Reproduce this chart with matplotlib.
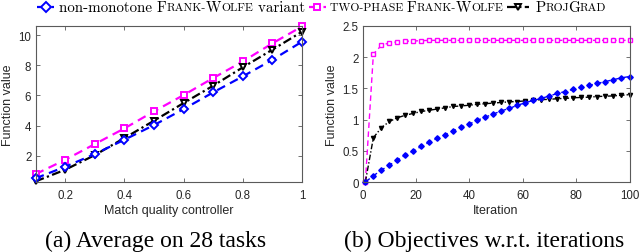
import matplotlib
matplotlib.use("Agg")
import matplotlib.pyplot as plt
from matplotlib.lines import Line2D
import numpy as np

# ---------------- data ----------------
ctrl = [0.1, 0.2, 0.3, 0.4, 0.5, 0.6, 0.7, 0.8, 0.9, 1.0]
a_nonmono = [0.50, 1.27, 2.11, 3.06, 4.03, 5.09, 6.20, 7.26, 8.36, 9.56]
a_twophase = [0.78, 1.73, 2.77, 3.81, 4.94, 6.02, 7.15, 8.25, 9.45, 10.57]
a_projgrad = [0.30, 1.07, 2.04, 3.17, 4.32, 5.49, 6.64, 7.86, 9.03, 10.22]

iters = list(range(1, 101, 3))
b_nonmono = [0.00, 0.10, 0.19, 0.27, 0.35, 0.43, 0.50, 0.57, 0.64, 0.70,
             0.76, 0.82, 0.88, 0.93, 0.99, 1.04, 1.09, 1.14, 1.18, 1.23,
             1.27, 1.31, 1.34, 1.38, 1.42, 1.45, 1.49, 1.52, 1.55, 1.58,
             1.61, 1.64, 1.67, 1.69]
b_twophase = [0.00, 2.05, 2.19, 2.23, 2.245, 2.255, 2.26, 2.265, 2.27, 2.27,
              2.27, 2.27, 2.27, 2.27, 2.27, 2.27, 2.27, 2.27, 2.27, 2.27,
              2.27, 2.27, 2.27, 2.27, 2.27, 2.27, 2.27, 2.27, 2.27, 2.27,
              2.27, 2.27, 2.27, 2.27]
b_projgrad = [0.00, 0.71, 0.87, 0.97, 1.03, 1.07, 1.10, 1.13, 1.15, 1.17,
              1.19, 1.21, 1.22, 1.23, 1.245, 1.255, 1.265, 1.275, 1.285, 1.29,
              1.30, 1.31, 1.32, 1.325, 1.335, 1.34, 1.35, 1.355, 1.36, 1.37,
              1.375, 1.38, 1.39, 1.40]

a_xticks = [0.2, 0.4, 0.6, 0.8, 1.0]
a_xticklabels = ["0.2", "0.4", "0.6", "0.8", "1"]
a_yticks = [2, 4, 6, 8, 10]
b_xticks = [0, 20, 40, 60, 80, 100]
b_yticks = [0, 0.5, 1, 1.5, 2, 2.5]
b_yticklabels = ["0", "0.5", "1", "1.5", "2", "2.5"]

BLUE = (0, 0, 1)
MAG = (1, 0, 1)
BLK = (0, 0, 0)
TXT = "#262626"
AXC = "#5a5a5a"
FS = 9
TFS = 8.3

W, H = 640, 253
fig = plt.figure(figsize=(6.4, 2.53), dpi=100)

def axes_px(l, r, t, b):
    return fig.add_axes([l / W, 1 - b / H, (r - l) / W, (b - t) / H])

axA = axes_px(35.5, 302, 27, 183)
axB = axes_px(362.7, 629.5, 27, 183)

labfont = dict(family="Liberation Sans", size=FS, color=TXT)

def style(ax):
    for s in ax.spines.values():
        s.set_color(AXC)
        s.set_linewidth(0.8)
    ax.tick_params(direction="in", length=3, width=0.6, color=AXC,
                   top=True, right=True, labelsize=TFS, labelcolor=TXT)
    ax.tick_params(axis="x", pad=5)
    ax.tick_params(axis="y", pad=3)
    for lab in ax.get_xticklabels() + ax.get_yticklabels():
        lab.set_family("Liberation Sans")

# ----- panel (a) -----
kw = dict(clip_on=False, lw=1.6, mew=1.4, ms=5)
axA.plot(ctrl, a_twophase, ls=(0, (4, 2.5)), color=MAG, marker="s", mfc="white", mec=MAG, **kw)
axA.plot(ctrl, a_projgrad, ls=(0, (4, 1.5, 1, 1.5)), color=BLK, marker="v", mfc="white", mec=BLK, **kw)
axA.plot(ctrl, a_nonmono, ls=(0, (4, 2.5)), color=BLUE, marker="D", mfc="white", mec=BLUE,
         clip_on=False, lw=1.6, mew=1.4, ms=4.5)
axA.set_xlim(0.1, 1.0)
axA.set_ylim(0.26, 10.6)
axA.set_xticks(a_xticks)
axA.set_xticklabels(a_xticklabels)
axA.set_yticks(a_yticks)
axA.set_xlabel("Match quality controller", fontdict=labfont, labelpad=2)
axA.set_ylabel("Function value", fontdict=labfont, labelpad=3)
style(axA)

# ----- panel (b) -----
kwb = dict(clip_on=False, lw=1.0, mew=1.0, ms=3)
axB.plot(iters, b_twophase, ls=(0, (4, 2.5)), color=MAG, marker="s", mfc="white", mec=MAG, **kwb)
axB.plot(iters, b_projgrad, ls=(0, (4, 1.5, 1, 1.5)), color=BLK, marker="v", mfc=BLK, mec=BLK, **kwb)
axB.plot(iters, b_nonmono, ls=(0, (4, 2.5)), color=BLUE, marker="D", mfc=BLUE, mec=BLUE,
         clip_on=False, lw=1.0, mew=1.0, ms=2.8)
axB.set_xlim(0, 100)
axB.set_ylim(0, 2.5)
axB.set_xticks(b_xticks)
axB.set_yticks(b_yticks)
axB.set_yticklabels(b_yticklabels)
axB.set_xlabel("Iteration", fontdict=labfont, labelpad=2)
axB.set_ylabel("Function value", fontdict=labfont, labelpad=3)
style(axB)

# ----- captions -----
capfont = dict(family="Liberation Serif", size=17, color="black", ha="center", va="center")
fig.text(156 / W, 1 - 241 / H, "(a) Average on 28 tasks", **capfont)
fig.text(484 / W, 1 - 241 / H, "(b) Objectives w.r.t. iterations", **capfont)

# ----- custom legend with small caps -----
S = 10.8
SC = 0.78 * S
LEGY = 1 - 8 / H
renderer = fig.canvas.get_renderer()

def put_segments(x_px, segs):
    for txt, size, kern in segs:
        t = fig.text(x_px / W, LEGY, txt, family="cmr10", size=size, color="black",
                     ha="left", va="center")
        bb = t.get_window_extent(renderer=renderer)
        x_px += bb.width + kern
    return x_px

def handle(x_px, color, marker, mfc, ls, length=17):
    y = LEGY
    fig.add_artist(Line2D([x_px / W, (x_px + length) / W], [y, y], color=color, ls=ls,
                          lw=1.6, transform=fig.transFigure))
    fig.add_artist(Line2D([(x_px + length / 2) / W], [y], color=color, marker=marker,
                          mfc=mfc, mec=color, mew=1.4, ms=5, transform=fig.transFigure))
    return x_px + length

x = 37
x = handle(x, BLUE, "D", "white", (0, (4, 2.5)))
x += 5
x = put_segments(x, [("non-monotone ", S, 0), ("F", S, 0), ("RANK-", SC, 0), ("W", S, -0.5),
                     ("OLFE", SC, 0), (" variant", S, 0)])
x += 4
x = handle(x, MAG, "s", "white", (0, (4, 2.5)))
x += 4
x = put_segments(x, [("TWO-PHASE ", SC, 0), ("F", S, 0), ("RANK-", SC, 0), ("W", S, -0.5),
                     ("OLFE", SC, 0)])
x += 4
x = handle(x, BLK, "v", "white", (0, (4, 1.5, 1, 1.5)), length=22)
x += 7
x = put_segments(x, [("P", S, 0), ("ROJ", SC, -1.5), ("G", S, 0), ("RAD", SC, 0)])

fig.savefig("out.png", dpi=100)
